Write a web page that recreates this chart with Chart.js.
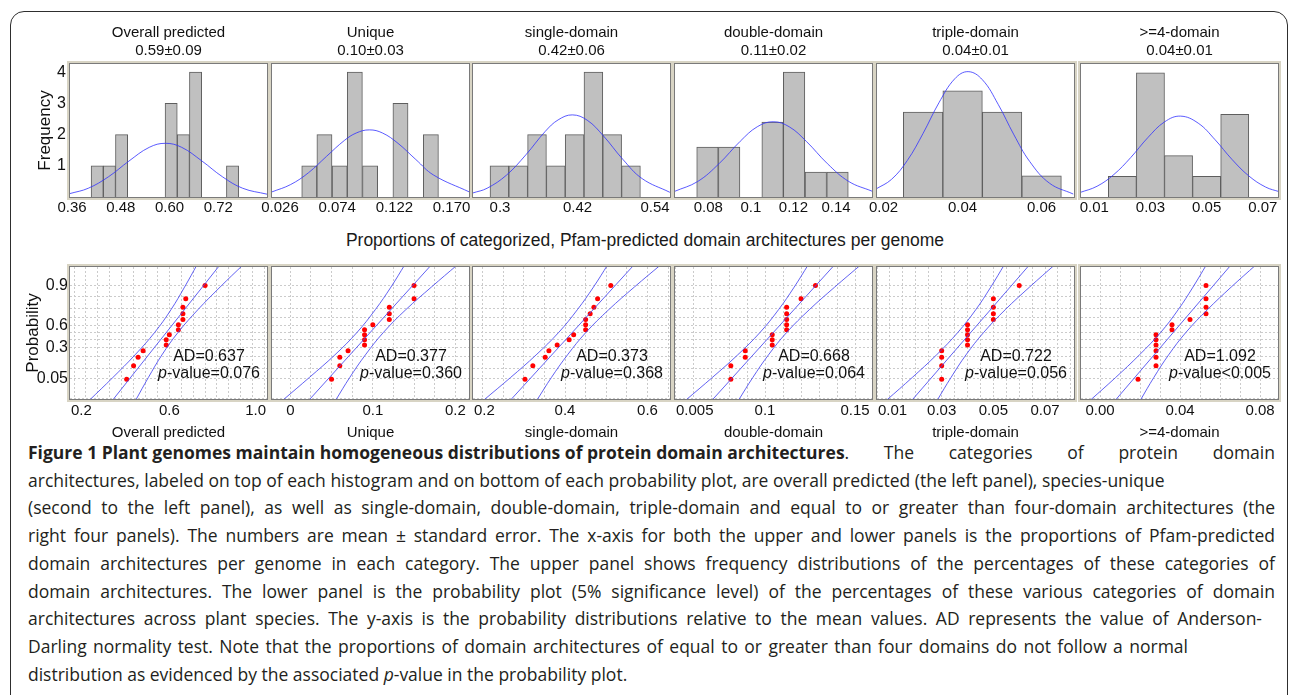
<!DOCTYPE html>
<html>
<head>
<meta charset="utf-8">
<script src="https://cdn.jsdelivr.net/npm/chart.js@4.4.0/dist/chart.umd.min.js"></script>
<style>
  html, body { margin: 0; padding: 0; background: #fff; }
  body { width: 1290px; height: 695px; position: relative; overflow: hidden; font-family: "Liberation Sans", Arial, sans-serif; }
  .outline { position: absolute; left: 10px; top: 11px; width: 1276px; height: 760px; border: 1.5px solid #2e2e2e; border-radius: 14px; }
  #xlabel { position: absolute; left: 0; width: 1290px; top: 230px; text-align: center; font-size: 17.5px; line-height: 20px; color: #1a1a1a; }
  #caption { position: absolute; left: 28px; top: 439px; font-family: "Open Sans", sans-serif; font-size: 17.5px; line-height: 27.7px; color: #231f20; }
  #caption div { white-space: nowrap; }
  #caption .j { text-align: justify; text-align-last: justify; white-space: normal; }
  #caption .lead { display: inline-block; }
</style>
</head>
<body>
<div class="outline"></div>
<div id="xlabel">Proportions of categorized, Pfam-predicted domain architectures per genome</div>
<div id="caption">
<div class="j" style="width:1247px"><b class="lead">Figure 1 Plant genomes maintain homogeneous distributions of protein domain architectures</b>. The categories of protein domain</div>
<div>architectures, labeled on top of each histogram and on bottom of each probability plot, are overall predicted (the left panel), species-unique</div>
<div class="j" style="width:1247px">(second to the left panel), as well as single-domain, double-domain, triple-domain and equal to or greater than four-domain architectures (the</div>
<div class="j" style="width:1247px">right four panels). The numbers are mean ± standard error. The x-axis for both the upper and lower panels is the proportions of Pfam-predicted</div>
<div class="j" style="width:1247px">domain architectures per genome in each category. The upper panel shows frequency distributions of the percentages of these categories of</div>
<div class="j" style="width:1247px">domain architectures. The lower panel is the probability plot (5% significance level) of the percentages of these various categories of domain</div>
<div class="j" style="width:1234px">architectures across plant species. The y-axis is the probability distributions relative to the mean values. AD represents the value of Anderson-</div>
<div class="j" style="width:1160px">Darling normality test. Note that the proportions of domain architectures of equal to or greater than four domains do not follow a normal</div>
<div>distribution as evidenced by the associated <i>p</i>-value in the probability plot.</div>
</div>
<script>
// ---- data ----
const panelNames = ['Overall predicted', 'Unique', 'single-domain', 'double-domain', 'triple-domain', '>=4-domain'];
const meanSe = ['0.59±0.09', '0.10±0.03', '0.42±0.06', '0.11±0.02', '0.04±0.01', '0.04±0.01'];

// histogram bins (bin centres) and frequencies
const histCenters = [
  [0.422, 0.452, 0.482, 0.513, 0.543, 0.573, 0.604, 0.634, 0.664, 0.695, 0.725, 0.755],
  [0.0506, 0.0633, 0.0761, 0.0888, 0.1016, 0.1143, 0.1271, 0.1398, 0.1526],
  [0.2991, 0.3282, 0.3573, 0.3864, 0.4155, 0.4446, 0.4737, 0.5028],
  [0.0796, 0.0898, 0.1000, 0.1102, 0.1203, 0.1305, 0.1407],
  [0.03, 0.04, 0.05, 0.06],
  [0.02, 0.03, 0.04, 0.05, 0.06]
];
const histCounts = [
  [1, 1, 2, 0, 0, 0, 3, 2, 4, 0, 0, 1],
  [1, 2, 1, 4, 1, 0, 3, 0, 2],
  [1, 1, 2, 1, 2, 4, 2, 1],
  [2, 2, 0, 3, 5, 1, 1],
  [4, 5, 4, 1],
  [1, 6, 2, 1, 4]
];
// fitted normal curve over each histogram
const curveX = [
  [0.355, 0.40, 0.45, 0.50, 0.55, 0.59, 0.63, 0.68, 0.73, 0.78, 0.84],
  [0.019, 0.035, 0.05, 0.065, 0.08, 0.09, 0.101, 0.112, 0.125, 0.14, 0.155, 0.185],
  [0.258, 0.28, 0.31, 0.34, 0.37, 0.39, 0.412, 0.435, 0.46, 0.49, 0.52, 0.563],
  [0.064, 0.075, 0.085, 0.095, 0.103, 0.1105, 0.118, 0.126, 0.136, 0.146, 0.157],
  [0.018, 0.022, 0.026, 0.030, 0.034, 0.038, 0.0414, 0.045, 0.049, 0.053, 0.057, 0.062, 0.068],
  [0.005, 0.011, 0.017, 0.023, 0.029, 0.035, 0.0407, 0.047, 0.053, 0.059, 0.065, 0.071, 0.076]
];
const curveY = [
  [0.11, 0.28, 0.65, 1.15, 1.59, 1.72, 1.59, 1.15, 0.65, 0.28, 0.09],
  [0.16, 0.40, 0.78, 1.30, 1.81, 2.05, 2.15, 2.05, 1.72, 1.20, 0.70, 0.16],
  [0.13, 0.28, 0.70, 1.35, 2.10, 2.47, 2.63, 2.46, 1.96, 1.21, 0.59, 0.15],
  [0.22, 0.62, 1.33, 2.23, 2.81, 3.01, 2.81, 2.23, 1.33, 0.62, 0.23],
  [0.37, 0.83, 1.72, 3.00, 4.44, 5.57, 5.91, 5.53, 4.37, 2.93, 1.67, 0.65, 0.14],
  [0.22, 0.52, 1.09, 1.91, 2.86, 3.63, 3.91, 3.57, 2.77, 1.82, 1.02, 0.48, 0.25]
];
const histTicks = [
  [0.36, 0.48, 0.60, 0.72], [0.026, 0.074, 0.122, 0.170], [0.3, 0.42, 0.54],
  [0.08, 0.1, 0.12, 0.14], [0.02, 0.04, 0.06], [0.01, 0.03, 0.05, 0.07]
];
const histTickLabels = [
  ['0.36', '0.48', '0.60', '0.72'], ['0.026', '0.074', '0.122', '0.170'], ['0.3', '0.42', '0.54'],
  ['0.08', '0.1', '0.12', '0.14'], ['0.02', '0.04', '0.06'], ['0.01', '0.03', '0.05', '0.07']
];
const freqTicks = [1, 2, 3, 4];

// probability plots: ranked observations (normal scores on y)
const rankZ = [-1.658, -1.184, -0.887, -0.653, -0.450, -0.264, -0.087, 0.087, 0.264, 0.450, 0.653, 0.887, 1.184, 1.658];
const probX = [
  [0.421, 0.45, 0.469, 0.49, 0.587, 0.587, 0.60, 0.638, 0.638, 0.657, 0.657, 0.657, 0.669, 0.75],
  [0.05, 0.06, 0.06, 0.07, 0.09, 0.09, 0.09, 0.09, 0.10, 0.12, 0.12, 0.12, 0.15, 0.15],
  [0.303, 0.322, 0.352, 0.361, 0.381, 0.410, 0.421, 0.450, 0.450, 0.450, 0.461, 0.470, 0.479, 0.511],
  [0.081, 0.081, 0.089, 0.089, 0.104, 0.104, 0.104, 0.112, 0.112, 0.112, 0.112, 0.112, 0.120, 0.128],
  [0.03, 0.03, 0.03, 0.03, 0.04, 0.04, 0.04, 0.04, 0.04, 0.05, 0.05, 0.05, 0.05, 0.06],
  [0.019, 0.028, 0.028, 0.028, 0.028, 0.028, 0.028, 0.036, 0.036, 0.045, 0.053, 0.053, 0.053, 0.053]
];
const fitZ = [-2.4, 2.4];
const fitX = [
  [0.362, 0.814], [0.0226, 0.1714], [0.2678, 0.5682],
  [0.0706, 0.1388], [0.0185, 0.0641], [0.0077, 0.0657]
];
const bandZ = [-2.4, -1.6, -0.8, 0, 0.8, 1.6, 2.4];
const bandLow = [
  [0.265, 0.363, 0.456, 0.539, 0.607, 0.664, 0.717],
  [-0.009, 0.023, 0.054, 0.081, 0.103, 0.122, 0.139],
  [0.203, 0.268, 0.330, 0.385, 0.430, 0.469, 0.504],
  [0.056, 0.0707, 0.0848, 0.0973, 0.1075, 0.1162, 0.1241],
  [0.0087, 0.0186, 0.0280, 0.0363, 0.0432, 0.0490, 0.0543],
  [-0.0048, 0.0078, 0.0197, 0.0304, 0.0391, 0.0465, 0.0533]
];
const bandHigh = [
  [0.459, 0.512, 0.569, 0.637, 0.720, 0.813, 0.911],
  [0.055, 0.072, 0.091, 0.113, 0.140, 0.171, 0.203],
  [0.332, 0.367, 0.406, 0.451, 0.506, 0.568, 0.633],
  [0.0853, 0.0932, 0.1019, 0.1121, 0.1246, 0.1387, 0.1534],
  [0.0283, 0.0336, 0.0394, 0.0463, 0.0546, 0.0640, 0.0739],
  [0.0202, 0.0269, 0.0343, 0.0430, 0.0537, 0.0656, 0.0782]
];
const adText = ['AD=0.637', 'AD=0.377', 'AD=0.373', 'AD=0.668', 'AD=0.722', 'AD=1.092'];
const pText = ['-value=0.076', '-value=0.360', '-value=0.368', '-value=0.064', '-value=0.056', '-value<0.005'];
const probTicks = [[0.2, 0.6, 1.0], [0, 0.1, 0.2], [0.2, 0.4, 0.6], [0.05, 0.1, 0.15], [0.01, 0.03, 0.05, 0.07], [0, 0.04, 0.08]];
const probTickLabels = [['0.2', '0.6', '1.0'], ['0', '0.1', '0.2'], ['0.2', '0.4', '0.6'], ['0.005', '0.1', '0.15'], ['0.01', '0.03', '0.05', '0.07'], ['0.00', '0.04', '0.08']];
const probGridZ = [-2.326, -1.645, -1.282, -0.842, -0.524, -0.253, 0, 0.253, 0.524, 0.842, 1.282, 1.645, 2.326];
const probLabelZ = [1.645, 0.253, -0.524, -1.645];
const probLabelText = ['0.9', '0.6', '0.3', '0.05'];

// ---- layout / scale setup ----
const panelLeft = [70, 272, 473, 675, 877, 1081];
const plotW = 197;
const histRange = [[0.3551, 0.8398], [0.0193, 0.1846], [0.2582, 0.5632], [0.06435, 0.1569], [0.01833, 0.0682], [0.00528, 0.0754]];
const histYMax = [4.26, 4.26, 4.26, 5.32, 6.27, 6.43];
const probRange = [[0.1832, 1.0099], [-0.0222, 0.2166], [0.177, 0.6545], [0.05, 0.1594], [0.00497, 0.0812], [-0.0095, 0.089]];
const probStep = [0.05, 0.025, 0.05, 0.01, 0.005, 0.01];
const zRange = [-2.36, 2.31];
const FONT = '"Liberation Sans", Arial, Helvetica, sans-serif';

Chart.defaults.font.family = FONT;
Chart.defaults.color = '#111';

const frameBox = {
  id: 'frameBox',
  afterDraw(chart) {
    const { ctx, chartArea: a } = chart;
    ctx.save();
    ctx.strokeStyle = '#d8d4c4';
    ctx.lineWidth = 2;
    ctx.strokeRect(a.left - 2, a.top - 2, a.right - a.left + 4, a.bottom - a.top + 4);
    ctx.strokeStyle = '#7a7a7a';
    ctx.lineWidth = 1;
    ctx.strokeRect(a.left - 0.5, a.top - 0.5, a.right - a.left + 1, a.bottom - a.top + 1);
    ctx.restore();
  }
};

// x tick labels of the probability plots, kept inside the panel at its edges
const edgeLabels = {
  id: 'edgeLabels',
  afterDraw(chart) {
    const { ctx, chartArea: a } = chart;
    const s = chart.scales.x;
    ctx.save();
    ctx.font = '15px ' + FONT;
    ctx.fillStyle = '#111';
    ctx.textAlign = 'center';
    ctx.textBaseline = 'middle';
    s.ticks.forEach(t => {
      if (!t.label) return;
      const w = ctx.measureText(t.label).width;
      let x = s.getPixelForValue(t.value);
      x = Math.min(Math.max(x, a.left + w / 2 + 1), a.right - w / 2 - 1);
      ctx.fillText(t.label, x, a.bottom + 12);
    });
    ctx.restore();
  }
};

const adNote = {
  id: 'adNote',
  afterDatasetsDraw(chart, args, opts) {
    const { ctx, chartArea: a } = chart;
    const normal = '16px ' + FONT;
    const italic = 'italic ' + normal;
    const cx = a.left + 139;
    ctx.save();
    ctx.fillStyle = '#111';
    ctx.textBaseline = 'middle';
    ctx.font = normal;
    ctx.textAlign = 'center';
    ctx.fillText(opts.ad, cx, a.top + 90);
    ctx.font = italic;
    const wp = ctx.measureText('p').width;
    ctx.font = normal;
    const wr = ctx.measureText(opts.rest).width;
    const x0 = cx - (wp + wr) / 2;
    ctx.textAlign = 'left';
    ctx.font = italic;
    ctx.fillText('p', x0, a.top + 107);
    ctx.font = normal;
    ctx.fillText(opts.rest, x0 + wp, a.top + 107);
    ctx.restore();
  }
};

function makeCanvas(left, top, w, h) {
  const c = document.createElement('canvas');
  c.width = w;
  c.height = h;
  c.style.cssText = 'position:absolute;left:' + left + 'px;top:' + top + 'px;width:' + w + 'px;height:' + h + 'px';
  document.body.appendChild(c);
  return c;
}

function histChart(i) {
  const first = i === 0;
  const axisW = first ? 42 : 0;
  const padL = first ? 0 : 25;
  const cv = makeCanvas(panelLeft[i] - axisW - padL, 24, axisW + padL + plotW + 25, 198);
  new Chart(cv, {
    type: 'bar',
    data: {
      datasets: [
        {
          type: 'line',
          data: curveX[i].map((x, k) => ({ x: x, y: curveY[i][k] })),
          borderColor: 'rgba(50,50,255,0.8)',
          borderWidth: 1,
          pointRadius: 0,
          tension: 0.4,
          clip: 0,
          order: 0
        },
        {
          type: 'bar',
          data: histCenters[i].map((x, k) => ({ x: x, y: histCounts[i][k] })),
          backgroundColor: '#c0c0c0',
          borderColor: '#5e5e5e',
          borderWidth: 1,
          barPercentage: 1,
          categoryPercentage: 1,
          order: 1
        }
      ]
    },
    options: {
      responsive: false,
      animation: false,
      layout: { padding: { left: padL, right: 25, top: 0, bottom: 0 } },
      plugins: {
        legend: { display: false },
        tooltip: { enabled: false },
        title: {
          display: true,
          fullSize: false,
          text: [panelNames[i], meanSe[i]],
          font: { size: 15, weight: 'normal' },
          color: '#111',
          padding: { top: 0, bottom: 4 }
        }
      },
      scales: {
        x: {
          type: 'linear',
          min: histRange[i][0],
          max: histRange[i][1],
          offset: false,
          grid: { offset: false, drawOnChartArea: false, drawTicks: true, tickLength: 2, tickColor: '#444' },
          border: { display: false },
          afterBuildTicks: s => { s.ticks = histTicks[i].map(v => ({ value: v })); },
          ticks: { callback: (v, k) => histTickLabels[i][k], font: { size: 15 }, color: '#111', padding: 0, maxRotation: 0, autoSkip: false },
          afterFit: s => { s.height = 25; }
        },
        y: {
          min: 0,
          max: histYMax[i],
          display: first,
          grid: { drawOnChartArea: false, drawTicks: true, tickLength: 3, tickColor: '#444' },
          border: { display: false },
          afterBuildTicks: s => { s.ticks = freqTicks.map(v => ({ value: v })); },
          ticks: { font: { size: 16 }, color: '#111', padding: 1 },
          title: { display: true, text: 'Frequency', font: { size: 17 }, color: '#111', padding: { top: 7, bottom: 0 } },
          afterFit: s => { s.width = axisW; }
        }
      }
    },
    plugins: [frameBox]
  });
}

function probChart(i) {
  const first = i === 0;
  const axisW = first ? 50 : 0;
  const padL = first ? 0 : 25;
  const cv = makeCanvas(panelLeft[i] - axisW - padL, 255, axisW + padL + plotW + 25, 187);
  const lineStyle = { showLine: true, borderColor: 'rgba(70,70,240,0.85)', borderWidth: 1, pointRadius: 0, clip: 0 };
  new Chart(cv, {
    type: 'scatter',
    data: {
      datasets: [
        Object.assign({ data: bandZ.map((z, k) => ({ x: bandLow[i][k], y: z })), tension: 0.4 }, lineStyle),
        Object.assign({ data: bandZ.map((z, k) => ({ x: bandHigh[i][k], y: z })), tension: 0.4 }, lineStyle),
        Object.assign({ data: fitZ.map((z, k) => ({ x: fitX[i][k], y: z })) }, lineStyle),
        {
          data: probX[i].map((x, k) => ({ x: x, y: rankZ[k] })),
          pointRadius: 2.5,
          pointBorderWidth: 0,
          pointBackgroundColor: '#ff0000',
          showLine: false,
          clip: 0
        }
      ]
    },
    options: {
      responsive: false,
      animation: false,
      layout: { padding: { left: padL, right: 25, top: 12, bottom: 0 } },
      plugins: {
        legend: { display: false },
        tooltip: { enabled: false },
        adNote: { ad: adText[i], rest: pText[i] }
      },
      scales: {
        x: {
          type: 'linear',
          min: probRange[i][0],
          max: probRange[i][1],
          grid: { color: '#cbcbcb', drawTicks: true, tickLength: 3, tickColor: '#777' },
          border: { display: false, dash: [2, 2] },
          afterBuildTicks: s => {
            const lo = probRange[i][0], hi = probRange[i][1], st = probStep[i];
            const t = [];
            for (let k = Math.ceil(lo / st - 1e-6); k * st <= hi + 1e-9; k++) t.push({ value: +(k * st).toFixed(6) });
            s.ticks = t;
          },
          ticks: {
            display: false,
            callback: v => {
              const k = probTicks[i].findIndex(t => Math.abs(t - v) < 1e-6);
              return k < 0 ? '' : probTickLabels[i][k];
            },
            autoSkip: false
          },
          title: { display: true, text: panelNames[i], font: { size: 15 }, color: '#111', padding: { top: 0, bottom: 0 } },
          afterFit: s => { s.height = 43; }
        },
        y: {
          min: zRange[0],
          max: zRange[1],
          grid: { color: '#cbcbcb', drawTicks: false },
          border: { display: false, dash: [2, 2] },
          afterBuildTicks: s => { s.ticks = probGridZ.map(v => ({ value: v })); },
          ticks: {
            display: first,
            callback: v => {
              const k = probLabelZ.findIndex(t => Math.abs(t - v) < 1e-6);
              return k < 0 ? '' : probLabelText[k];
            },
            font: { size: 16 }, color: '#111', padding: 2, autoSkip: false
          },
          title: { display: first, text: 'Probability', font: { size: 17 }, color: '#111', padding: { top: 3, bottom: 0 } },
          afterFit: s => { s.width = axisW; }
        }
      }
    },
    plugins: [frameBox, edgeLabels, adNote]
  });
}

for (let i = 0; i < 6; i++) {
  histChart(i);
  probChart(i);
}
</script>
</body>
</html>
